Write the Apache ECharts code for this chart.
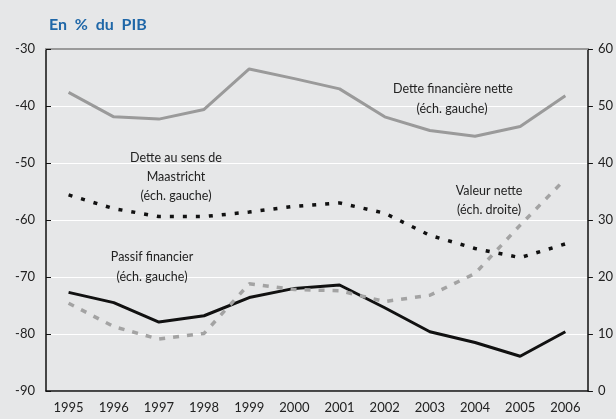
<!DOCTYPE html>
<html><head><meta charset="utf-8">
<script src="https://cdn.jsdelivr.net/npm/echarts@6/dist/echarts.min.js"></script>
<style>html,body{margin:0;padding:0;background:#e6e7e8;}#c{width:616px;height:419px;}</style>
</head><body><div id="c"></div>
<script>
const years = ['1995','1996','1997','1998','1999','2000','2001','2002','2003','2004','2005','2006'];
const detteFinanciereNette = [-37.6,-41.9,-42.3,-40.6,-33.5,-35.2,-37.0,-41.9,-44.3,-45.3,-43.6,-38.2];
const detteMaastricht = [-55.6,-58.0,-59.4,-59.4,-58.6,-57.6,-57.0,-58.8,-62.7,-65.0,-66.6,-64.2];
const passifFinancier = [-72.7,-74.5,-77.9,-76.8,-73.6,-72.0,-71.4,-75.4,-79.6,-81.5,-83.9,-79.6];
const valeurNette = [15.4,11.3,9.1,10.1,18.8,17.8,17.6,15.7,16.8,20.6,29.1,37.2];

const chart = echarts.init(document.getElementById('c'), null, {renderer:'canvas'});
const annFont = {fontFamily:'Lato', fontSize:12.5, fill:'#222', textAlign:'center', textVerticalAlign:'middle'};
function ann(x,y,t){return {type:'text', z:100, x:x, y:y, style:Object.assign({text:t, x:0, y:0}, annFont)};}
chart.setOption({
  backgroundColor:'#e6e7e8',
  animation:false,
  title:{text:'En  %  du  PIB', left:44, top:12, textStyle:{fontFamily:'Lato', fontWeight:'bold', fontSize:16, color:'#1f67a8'}},
  grid:{left:46, right:19, top:49, bottom:28, containLabel:false},
  xAxis:[{type:'category', data:years, boundaryGap:true,
    axisLine:{lineStyle:{color:'#111', width:1.5}},
    axisTick:{inside:true, length:5, lineStyle:{color:'#111'}},
    axisLabel:{color:'#222', fontFamily:'Lato', fontSize:13, margin:10},
    splitLine:{show:false}},
   {type:'category', data:years, position:'top', axisLine:{lineStyle:{color:'#9a9a9a', width:2}}, axisTick:{show:false}, axisLabel:{show:false}}],
  yAxis:[{type:'value', min:-90, max:-30, interval:10, position:'left',
    axisLine:{show:true, lineStyle:{color:'#111', width:1.5}},
    axisTick:{show:true, inside:true, length:5, lineStyle:{color:'#111'}},
    axisLabel:{color:'#222', fontFamily:'Lato', fontSize:13, margin:11},
    splitLine:{show:true, lineStyle:{color:'#ffffff', width:1}}},
   {type:'value', min:0, max:60, interval:10, position:'right',
    axisLine:{show:true, lineStyle:{color:'#111', width:1.5}},
    axisTick:{show:true, inside:false, length:5, lineStyle:{color:'#111'}},
    axisLabel:{color:'#222', fontFamily:'Lato', fontSize:13, margin:10},
    splitLine:{show:false}}],
  series:[
    {name:'Dette financière nette', type:'line', data:detteFinanciereNette, yAxisIndex:0, symbol:'none', lineStyle:{color:'#9a9a9a', width:3}},
    {name:'Dette au sens de Maastricht', type:'line', data:detteMaastricht, yAxisIndex:0, symbol:'none', lineStyle:{color:'#111', width:3.5, type:[4,9]}},
    {name:'Passif financier', type:'line', data:passifFinancier, yAxisIndex:0, symbol:'none', lineStyle:{color:'#111', width:3}},
    {name:'Valeur nette', type:'line', data:valeurNette, yAxisIndex:1, symbol:'none', lineStyle:{color:'#a3a3a3', width:3.5, type:[6,8]}}
  ],
  graphic:[
    ann(453,89,'Dette financière nette'), ann(452,109,'(éch. gauche)'),
    ann(176,158,'Dette au sens de'), ann(176,177,'Maastricht'), ann(176,196,'(éch. gauche)'),
    ann(489,191,'Valeur nette'), ann(489,210,'(éch. droite)'),
    ann(152,257,'Passif financier'), ann(152,277,'(éch. gauche)')
  ]
});
</script></body></html>
